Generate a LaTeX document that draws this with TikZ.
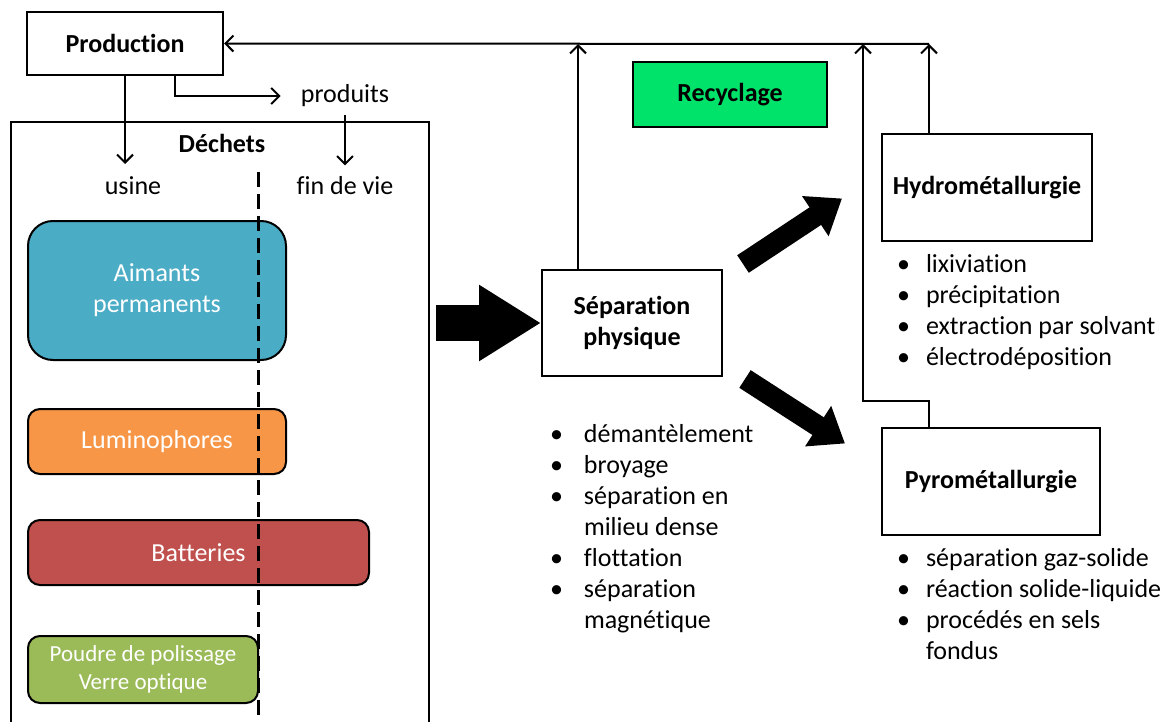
\documentclass[tikz,border=0pt]{standalone}
\usepackage{fontspec}
\setmainfont[Ligatures=NoCommon]{Carlito}
\usetikzlibrary{arrows.meta,positioning}

\definecolor{aimcol}{HTML}{4BACC6}
\definecolor{lumcol}{HTML}{F79646}
\definecolor{batcol}{HTML}{C0504D}
\definecolor{poucol}{HTML}{9BBB59}
\definecolor{reccol}{HTML}{00E36B}

\newcommand{\txtsz}{\fontsize{26}{31}\selectfont}
\newcommand{\ptlist}[2]{\begin{tabular}[t]{@{}p{#1}@{}l@{}}#2\end{tabular}}

\begin{document}
\begin{tikzpicture}[x=1pt, y=-1pt, font=\txtsz, line width=2pt,
  >={Straight Barb[length=8pt,width=16pt]},
  stage/.style={draw, line width=2pt, align=center, font=\txtsz\bfseries, minimum width=#1},
  waste/.style={draw, line width=2pt, align=center, text=white, fill=#1, rounded corners=12pt},
  fat/.style={line width=#1}]
\useasboundingbox (0,0) rectangle (1172,722);

% production side
\node[stage=196pt, minimum height=63pt] (prod) at (125,43.5) {Production};
\node (produits) at (345,96) {produits};
\draw (11,730) |- (429,122) -- (429,730);
\node[font=\txtsz\bfseries] (dechets) at (222,143) {Déchets};
\node (usine) at (133,186) {usine};
\node (findevie) at (345,186) {fin de vie};

\node[waste=aimcol, minimum width=258pt, minimum height=139pt, rounded corners=25pt] (aim) at (157,290.5) {Aimants\\permanents};
\node[waste=lumcol, minimum width=258pt, minimum height=65pt] (lum) at (157,441.5) {Luminophores};
\node[waste=batcol, minimum width=341pt, minimum height=65pt] (bat) at (198.5,552.5) {Batteries};
\node[waste=poucol, minimum width=230pt, minimum height=67pt, font=\fontsize{23}{28}\selectfont] (pou) at (143,669.5) {Poudre de polissage\\Verre optique};
\draw[line width=3pt, dash pattern=on 15pt off 7pt] (258,172) -- (258,730);

\draw[->] (prod.south) -- ++(0,88);
\draw[->] ([xshift=50pt]prod.south) |- ([xshift=-16pt]produits.west);
\draw[->] ([yshift=-4pt]produits.south) -- ++(0,50);

% recycling side
\node[stage=180pt, minimum height=106pt] (sep) at (632,323) {Séparation\\physique};
\node[stage=194pt, minimum height=65pt, fill=reccol] (rec) at (730,94.5) {Recyclage};
\node[stage=210pt, minimum height=107pt] (hydro) at (987,187.5) {Hydrométallurgie};
\node[stage=218pt, minimum height=107pt] (pyro) at (991,481.5) {Pyrométallurgie};

\node[anchor=base west, inner sep=0pt] (sepl) at (549,442) {\ptlist{34pt}{%
  \textbullet & démantèlement\\ \textbullet & broyage\\ \textbullet & séparation en\\ & milieu dense\\
  \textbullet & flottation\\ \textbullet & séparation\\ & magnétique}};
\node[anchor=base west, inner sep=0pt] (hydrol) at (896,272) {\ptlist{29pt}{%
  \textbullet & lixiviation\\ \textbullet & précipitation\\ \textbullet & extraction par solvant\\ \textbullet & électrodéposition}};
\node[anchor=base west, inner sep=0pt] (pyrol) at (896,566) {\ptlist{29pt}{%
  \textbullet & séparation gaz-solide\\ \textbullet & réaction solide-liquide\\ \textbullet & procédés en sels\\ & fondus}};

\coordinate (retS) at (578,44);
\coordinate (retP) at (863,44);
\coordinate (retH) at (929,44);
\draw[->] (retH) -- (prod.east);
\draw[->] (sep.north -| retS) -- (retS);
\draw[->] (hydro.north -| retH) -- (retH);
\draw[->] (pyro.north -| retH) -- ++(0,-26) -| (retP);

\coordinate (dechE) at (429,323);
\draw[fat=36pt, -{Triangle[length=62pt,width=72pt]}] ([xshift=7pt]dechE) -- (sep.west);
\draw[fat=21pt, -{Triangle[length=32pt,width=46pt]}] ([xshift=20pt,yshift=5pt]sep.north east) -- ([xshift=-39pt,yshift=-11pt]hydro.west);
\draw[fat=21pt, -{Triangle[length=32pt,width=46pt]}] ([xshift=22pt,yshift=-2pt]sep.south east) -- ([xshift=-36pt,yshift=38pt]pyro.west);
\end{tikzpicture}
\end{document}
